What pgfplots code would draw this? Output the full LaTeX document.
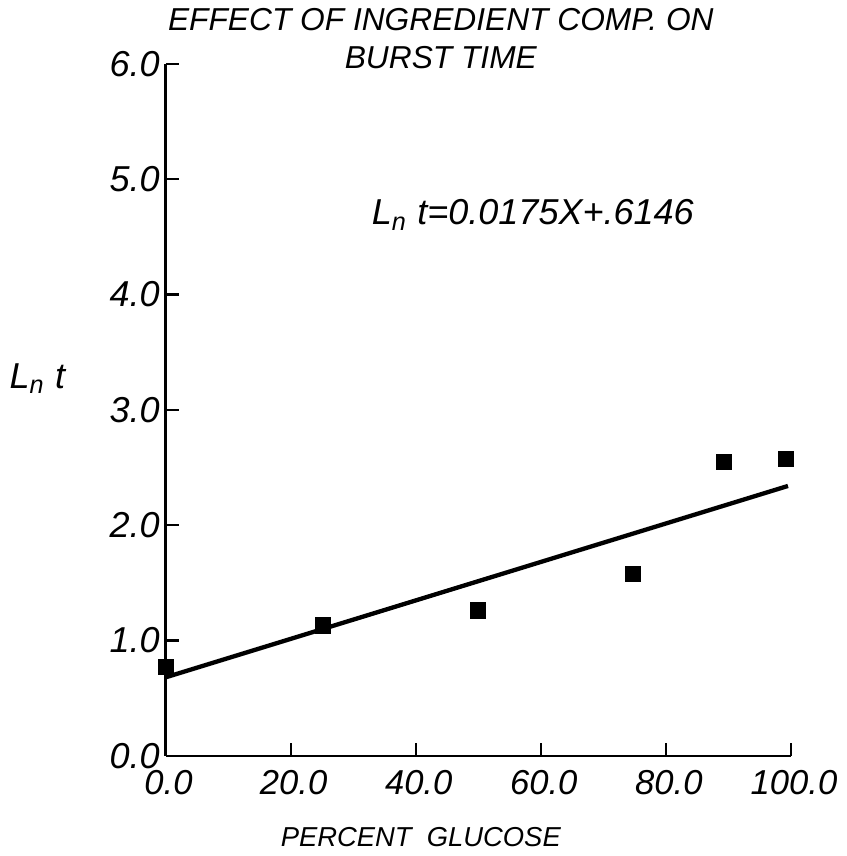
\documentclass[border=0pt]{standalone}
\usepackage{fontspec}
\setmainfont{Liberation Sans}
\usepackage{pgfplots}
\pgfplotsset{compat=1.18}

\begin{document}
\begin{tikzpicture}
\begin{axis}[
  scale only axis,width=217pt,height=240pt,
  xmin=0,xmax=100,ymin=0,ymax=6,
  axis x line=bottom,axis y line=left,axis line style={-,line width=0.8pt},
  xtick={0,20,...,100},ytick={0,1,...,6},
  tick align=inside,major tick length=4.5pt,tick style={line width=0.8pt,black},
  /pgf/number format/assume math mode=true,
  /pgf/number format/fixed,/pgf/number format/fixed zerofill,/pgf/number format/precision=1,
  tick label style={font=\fontsize{12.5}{14}\selectfont\itshape},
  xticklabel style={font=\fontsize{12}{14}\selectfont\itshape,yshift=-1.5pt,xshift=1pt},
  yticklabel style={xshift=1.5pt},
  clip=false,
]
\addplot[only marks,mark=square*,mark size=2.6pt,black] coordinates {
  (0,0.77) (25.1,1.13) (50,1.26) (74.7,1.58) (89.3,2.55) (99.2,2.57)};
\addplot[black,line width=1.5pt] coordinates {(0,0.68) (99.5,2.34)};
\node[font=\fontsize{12.5}{14}\selectfont\itshape] at (axis cs:58.7,4.69) {L\textsubscript{n} t=0.0175X+.6146};
\node[font=\fontsize{12.5}{14}\selectfont\itshape] at (rel axis cs:-0.205,0.545) {L\textsubscript{n} t};
\node[font=\fontsize{11}{13}\selectfont\itshape,anchor=south,align=center,inner sep=3pt] at (rel axis cs:0.44,0.98)
  {EFFECT OF INGREDIENT COMP. ON\\BURST TIME};
\node[font=\fontsize{9.5}{11}\selectfont\itshape] at (rel axis cs:0.408,-0.117) {PERCENT\ \ GLUCOSE};
\end{axis}
\end{tikzpicture}
\end{document}
